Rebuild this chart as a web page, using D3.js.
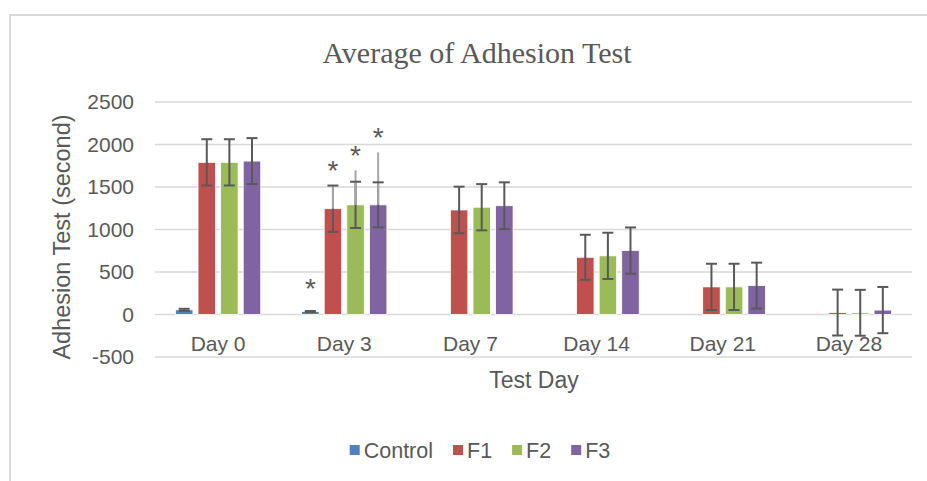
<!DOCTYPE html>
<html>
<head>
<meta charset="utf-8">
<script src="https://cdn.jsdelivr.net/npm/d3@7"></script>
<style>
  body { margin: 0; background: #fff; }
  text { font-family: "Liberation Sans", Arial, sans-serif; fill: #595959; }
</style>
</head>
<body>
<script>
var days = ['Day 0', 'Day 3', 'Day 7', 'Day 14', 'Day 21', 'Day 28'];
var seriesNames = ['Control', 'F1', 'F2', 'F3'];
var seriesColors = ['#4F81BD', '#C0504D', '#9BBB59', '#8064A2'];
var yTicks = [-500, 0, 500, 1000, 1500, 2000, 2500];

// averages per series, one value per day
var controlValues = [55, 35, 0, 0, 0, 0];
var f1Values = [1790, 1245, 1230, 673, 325, 23];
var f2Values = [1790, 1290, 1262, 690, 325, 20];
var f3Values = [1805, 1290, 1280, 752, 340, 52];

// error (standard deviation) per series
var controlErr = [12, 6, 0, 0, 0, 0];
var f1Err = [272, 272, 274, 265, 272, 270];
var f2Err = [272, 272, 272, 272, 272, 270];
var f3Err = [270, 265, 275, 272, 270, 272];

// second upper error bar on Day 3 (lighter line)
var day3Upper = [null, 1520, 1696, 1907];
// significance marks on Day 3
var day3Sig = [true, true, true, true];

var allValues = [controlValues, f1Values, f2Values, f3Values];
var allErr = [controlErr, f1Err, f2Err, f3Err];

function drawChart () {
    var width = 927,
        height = 481;

    var svg = d3.select("body").append("svg")
        .attr("width", width)
        .attr("height", height);

    // chart frame
    svg.append("rect")
        .attr("x", 10).attr("y", 15)
        .attr("width", 940).attr("height", 480)
        .style("fill", "none")
        .style("stroke", "#d9d9d9")
        .style("stroke-width", 2);

    var x0 = d3.scaleBand()
        .domain(days)
        .range([155, 912])
        .paddingInner(0.324)
        .paddingOuter(0.162);

    var x1 = d3.scaleBand()
        .domain(seriesNames)
        .range([0, x0.bandwidth()])
        .paddingInner(0.226);

    var y = d3.scaleLinear()
        .domain([-500, 2500])
        .range([357, 102]);

    // gridlines
    svg.append("g")
        .selectAll("line")
        .data(yTicks)
        .enter().append("line")
        .attr("x1", 155).attr("x2", 912)
        .attr("y1", function (d) { return y(d); })
        .attr("y2", function (d) { return y(d); })
        .style("stroke", "#d9d9d9")
        .style("stroke-width", 1.5);

    // y axis labels
    var yAxis = d3.axisLeft(y)
        .tickValues(yTicks)
        .tickFormat(function (d) { return String(d); })
        .tickSize(0).tickPadding(0);
    var yg = svg.append("g")
        .attr("transform", "translate(134,0)")
        .call(yAxis);
    yg.select(".domain").remove();
    yg.selectAll("text")
        .style("font-size", "21px")
        .style("font-family", "Liberation Sans, Arial, sans-serif")
        .attr("fill", "#595959");

    // x axis labels
    var xAxis = d3.axisBottom(x0).tickSize(0).tickPadding(0);
    var xg = svg.append("g")
        .attr("transform", "translate(0,336)")
        .call(xAxis);
    xg.select(".domain").remove();
    xg.selectAll("text")
        .style("font-size", "21px")
        .style("font-family", "Liberation Sans, Arial, sans-serif")
        .attr("fill", "#595959");

    var bars = [];
    for (i = 0; i < seriesNames.length; i = i + 1) {
        for (j = 0; j < days.length; j = j + 1) {
            bars.push({ s: i, day: days[j], value: allValues[i][j], err: allErr[i][j], j: j });
        }
    }

    function barX (d) { return x0(d.day) + x1(seriesNames[d.s]); }
    function barMid (d) { return barX(d) + x1.bandwidth() / 2; }

    svg.append("g")
        .selectAll("rect")
        .data(bars)
        .enter().append("rect")
        .attr("x", barX)
        .attr("width", x1.bandwidth())
        .attr("y", function (d) { return y(Math.max(d.value, 0)); })
        .attr("height", function (d) { return Math.abs(y(d.value) - y(0)); })
        .style("fill", function (d) { return seriesColors[d.s]; })
        .style("stroke", "#fff")
        .style("stroke-width", 0.8);

    var withErr = bars.filter(function (d) { return d.err > 0; });

    var errG = svg.append("g");
    errG.selectAll("line.stem")
        .data(withErr)
        .enter().append("line")
        .attr("class", "stem")
        .attr("x1", barMid).attr("x2", barMid)
        .attr("y1", function (d) { return y(d.value + d.err); })
        .attr("y2", function (d) { return y(d.value - d.err); })
        .style("stroke", "#595959")
        .style("stroke-width", 2);

    // lighter upper bars for Day 3
    var lightData = bars.filter(function (d) { return d.j === 1 && day3Upper[d.s] !== null; });
    errG.selectAll("line.light")
        .data(lightData)
        .enter().append("line")
        .attr("class", "light")
        .attr("x1", barMid).attr("x2", barMid)
        .attr("y1", function (d) { return y(day3Upper[d.s]); })
        .attr("y2", function (d) { return y(d.value); })
        .style("stroke", "#a6a6a6")
        .style("stroke-width", 2);

    var caps = [];
    withErr.forEach(function (d) {
        caps.push({ d: d, v: d.value + d.err });
        caps.push({ d: d, v: d.value - d.err });
    });
    errG.selectAll("line.cap")
        .data(caps)
        .enter().append("line")
        .attr("class", "cap")
        .attr("x1", function (c) { return barMid(c.d) - 5.5; })
        .attr("x2", function (c) { return barMid(c.d) + 5.5; })
        .attr("y1", function (c) { return y(c.v); })
        .attr("y2", function (c) { return y(c.v); })
        .style("stroke", "#595959")
        .style("stroke-width", 2);

    // asterisks
    var sigData = bars.filter(function (d) { return d.j === 1 && day3Sig[d.s]; });
    svg.append("g")
        .selectAll("text")
        .data(sigData)
        .enter().append("text")
        .attr("x", barMid)
        .attr("y", function (d) {
            var top = Math.max(d.value + d.err, day3Upper[d.s] || 0);
            var gap = d.s === 0 ? 30 : 22; //control mark sits higher
            return y(top) - gap + 17;
        })
        .attr("text-anchor", "middle")
        .style("font-size", "28px")
        .text("*");

    // titles
    svg.append("text")
        .attr("x", 477).attr("y", 63)
        .attr("text-anchor", "middle")
        .style("font-family", "Liberation Serif, Times New Roman, serif")
        .style("font-size", "30px")
        .text("Average of Adhesion Test");

    svg.append("text")
        .attr("x", 534).attr("y", 388)
        .attr("text-anchor", "middle")
        .style("font-size", "23px")
        .text("Test Day");

    svg.append("text")
        .attr("transform", "translate(70,237) rotate(-90)")
        .attr("text-anchor", "middle")
        .style("font-size", "23.5px")
        .text("Adhesion Test (second)");

    // legend
    var legend = svg.append("g");
    var items = legend.selectAll("g")
        .data(seriesNames)
        .enter().append("g");
    items.append("rect")
        .attr("width", 10).attr("height", 10)
        .attr("y", 445)
        .style("fill", function (d, i) { return seriesColors[i]; });
    items.append("text")
        .attr("x", 14).attr("y", 458)
        .style("font-size", "21.5px")
        .text(function (d) { return d; });

    var offsets = [], total = 0;
    items.each(function () {
        var w = 14 + d3.select(this).select("text").node().getComputedTextLength();
        offsets.push(total);
        total = total + w + 20;
    });
    total = total - 20;
    var startX = 480 - total / 2;
    items.attr("transform", function (d, i) { return "translate(" + (startX + offsets[i]) + ",0)"; });
}

drawChart();
</script>
</body>
</html>
